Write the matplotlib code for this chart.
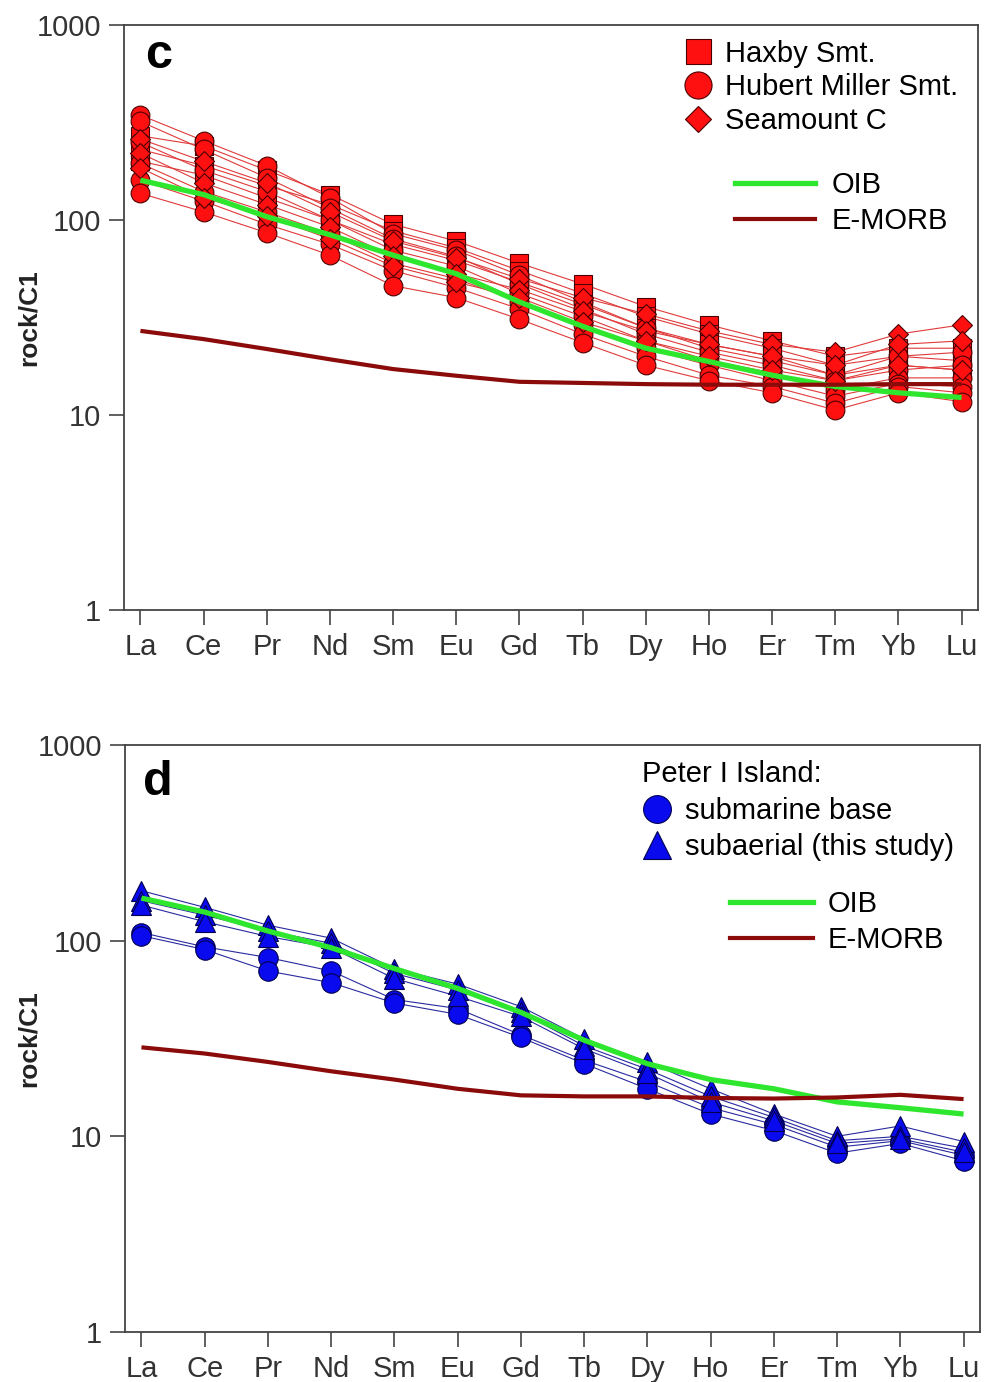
import numpy as np
import matplotlib.pyplot as plt
from matplotlib.lines import Line2D
from matplotlib.ticker import NullLocator

plt.rcParams['font.family'] = ['Liberation Sans', 'DejaVu Sans']

ree = ['La', 'Ce', 'Pr', 'Nd', 'Sm', 'Eu', 'Gd', 'Tb', 'Dy', 'Ho', 'Er', 'Tm', 'Yb', 'Lu']

# panel c - seamount samples, chondrite normalised
haxby = [
    [270, 240, 180, 135, 95, 78, 60, 47, 36, 29, 24, 20, 22, 22],
    [230, 190, 150, 120, 88, 72, 55, 42, 32, 26, 22, 18, 20, 19],
    [200, 170, 130, 100, 75, 62, 48, 37, 28, 23, 20, 16, 18, 17],
]
hubert_miller = [
    [345, 255, 190, 130, 85, 70, 52, 38, 28, 22, 19, 16, 20, 21],
    [320, 230, 165, 115, 80, 65, 47, 35, 26, 21, 18, 15, 17, 18],
    [250, 180, 140, 100, 70, 58, 42, 32, 24, 19, 16.5, 13.5, 15.5, 15.5],
    [195, 140, 110, 85, 60, 50, 38, 29, 22, 18, 15, 12.5, 14.5, 14],
    [160, 125, 95, 75, 55, 45, 35, 26, 20, 16, 14, 11.5, 14, 13],
    [137, 110, 86, 66, 46, 40, 31, 23.5, 18, 15, 13, 10.6, 13, 11.7],
]
seamount_c = [
    [260, 200, 155, 110, 78, 64, 50, 40, 33, 27, 23, 21, 26, 29],
    [220, 155, 120, 92, 65, 53, 44, 34, 27, 23, 20, 18, 23, 24],
    [185, 130, 105, 80, 58, 48, 40, 30, 24, 20, 17, 15, 18, 17],
]
oib_c = [160, 135, 104, 84, 66, 53, 38, 28.5, 22, 18.8, 16, 14, 13, 12.3]
emorb_c = [27, 24.5, 21.8, 19.3, 17.2, 15.9, 14.8, 14.6, 14.4, 14.3, 14.3, 14.3, 14.4, 14.4]

# panel d - Peter I Island
submarine = [
    [110, 93, 82, 70, 50, 45, 33, 24.5, 19, 14, 11.5, 8.8, 9.5, 8],
    [106, 90, 70, 61, 48, 42, 32, 23.5, 17.5, 13, 10.7, 8.2, 9.2, 7.5],
]
subaerial = [
    [180, 148, 120, 103, 72, 60, 46, 31.5, 24, 17.5, 13, 10, 11.3, 9.4],
    [160, 135, 112, 97, 68, 56, 43, 29, 22, 16, 12.5, 9.5, 10, 8.7],
    [152, 125, 105, 92, 64, 52, 41, 28, 21, 15, 12, 9.2, 9.7, 8.3],
]
oib_d = [165, 140, 112, 92, 72, 57, 43, 31, 23.5, 19.5, 17.5, 15, 14, 13]
emorb_d = [28.5, 26.5, 24, 21.5, 19.5, 17.5, 16.2, 16, 16, 15.7, 15.6, 15.8, 16.3, 15.5]

x = np.arange(len(ree))
GREEN = '#2ee62e'
BROWN = '#8b0a0a'
FS = 21


def style(ax):
    ax.set_yscale('log')
    ax.set_ylim(1, 1000)
    ax.set_xlim(-0.26, 13.26)
    ax.set_xticks(x)
    ax.set_xticklabels(ree)
    ax.set_yticks([1, 10, 100, 1000])
    ax.set_yticklabels(['1', '10', '100', '1000'])
    ax.yaxis.set_minor_locator(NullLocator())
    ax.tick_params(direction='out', length=10.5, width=1.2, color='#444',
                   labelsize=FS, labelcolor='#333')
    ax.tick_params(axis='x', pad=6)
    ax.tick_params(axis='y', pad=6)
    for s in ax.spines.values():
        s.set_color('#444')
        s.set_linewidth(1.3)
    ax.set_ylabel('rock/C1', fontsize=19, fontweight='bold', color='#222')
    ax.yaxis.set_label_coords(-0.098, 0.5)


fig = plt.figure(figsize=(9.85, 13.82), dpi=100)
ax_c = fig.add_axes([124 / 985, 1 - 610 / 1382, 854 / 985, 585 / 1382])
ax_d = fig.add_axes([125 / 985, 1 - 1332 / 1382, 855 / 985, 587 / 1382])

# ---- panel c
groups_c = [(haxby, 's', 12.5), (hubert_miller, 'o', 13.5), (seamount_c, 'D', 10)]
for grp, mk, ms in groups_c:
    for s in grp:
        ax_c.plot(x, s, '-', color='#e03a3a', lw=0.8, zorder=2)
for grp, mk, ms in groups_c:
    for s in grp:
        ax_c.plot(x, s, ls='none', marker=mk, ms=ms, mfc='#ff1010',
                  mec='#4a0000', mew=0.8, zorder=3)
ax_c.plot(x, oib_c, color=GREEN, lw=3.8, zorder=5, solid_capstyle='butt')
ax_c.plot(x, emorb_c, color=BROWN, lw=3.0, zorder=5, solid_capstyle='butt')
style(ax_c)
ax_c.text(0.025, (610 - 68) / 585, 'c', transform=ax_c.transAxes,
          fontsize=35, fontweight='bold', va='baseline')

h1 = [Line2D([], [], ls='none', marker='s', ms=18, mfc='#ff1010', mec='#4a0000', mew=0.8),
      Line2D([], [], ls='none', marker='o', ms=19.5, mfc='#ff1010', mec='#4a0000', mew=0.8),
      Line2D([], [], ls='none', marker='D', ms=13.5, mfc='#ff1010', mec='#4a0000', mew=0.8)]
leg1 = ax_c.legend(h1, ['Haxby Smt.', 'Hubert Miller Smt.', 'Seamount C'],
                   loc='upper left', bbox_to_anchor=(0.6546, 0.975), frameon=False,
                   fontsize=FS, handlelength=1.0, handletextpad=0.44, labelspacing=0.2,
                   borderpad=0, borderaxespad=0)
ax_c.add_artist(leg1)
h2 = [Line2D([], [], color=GREEN, lw=3.8), Line2D([], [], color=BROWN, lw=3.0)]
ax_c.legend(h2, ['OIB', 'E-MORB'], loc='upper left', bbox_to_anchor=(0.7155, 0.750),
            frameon=False, fontsize=FS, handlelength=2.74, handletextpad=0.58,
            labelspacing=0.26, borderpad=0, borderaxespad=0)

# ---- panel d
for s in submarine + subaerial:
    ax_d.plot(x, s, '-', color='#2a2aa0', lw=0.8, zorder=2)
for s in submarine:
    ax_d.plot(x, s, ls='none', marker='o', ms=14, mfc='#0a0aee', mec='#000050',
              mew=0.8, zorder=3)
for s in subaerial:
    ax_d.plot(x, s, ls='none', marker='^', ms=15, mfc='#0a0aee', mec='#000050',
              mew=0.8, zorder=3)
ax_d.plot(x, oib_d, color=GREEN, lw=3.8, zorder=5, solid_capstyle='butt')
ax_d.plot(x, emorb_d, color=BROWN, lw=3.0, zorder=5, solid_capstyle='butt')
style(ax_d)
ax_d.text(0.021, (1332 - 795) / 587, 'd', transform=ax_d.transAxes,
          fontsize=35, fontweight='bold', va='baseline')

h3 = [Line2D([], [], ls='none', marker='o', ms=20, mfc='#0a0aee', mec='#000050', mew=0.8),
      Line2D([], [], ls='none', marker='^', ms=20, mfc='#0a0aee', mec='#000050', mew=0.8)]
leg3 = ax_d.legend(h3, ['submarine base', 'subaerial (this study)'],
                   title='Peter I Island:', title_fontsize=FS, alignment='left',
                   loc='upper left', bbox_to_anchor=(0.605, 0.9745), frameon=False,
                   fontsize=FS, handlelength=1.0, handletextpad=0.46, labelspacing=0.3,
                   borderpad=0, borderaxespad=0)
ax_d.add_artist(leg3)
h4 = [Line2D([], [], color=GREEN, lw=3.8), Line2D([], [], color=BROWN, lw=3.0)]
ax_d.legend(h4, ['OIB', 'E-MORB'], loc='upper left', bbox_to_anchor=(0.7076, 0.753),
            frameon=False, fontsize=FS, handlelength=2.84, handletextpad=0.51,
            labelspacing=0.28, borderpad=0, borderaxespad=0)

fig.savefig('out.png', dpi=100)
